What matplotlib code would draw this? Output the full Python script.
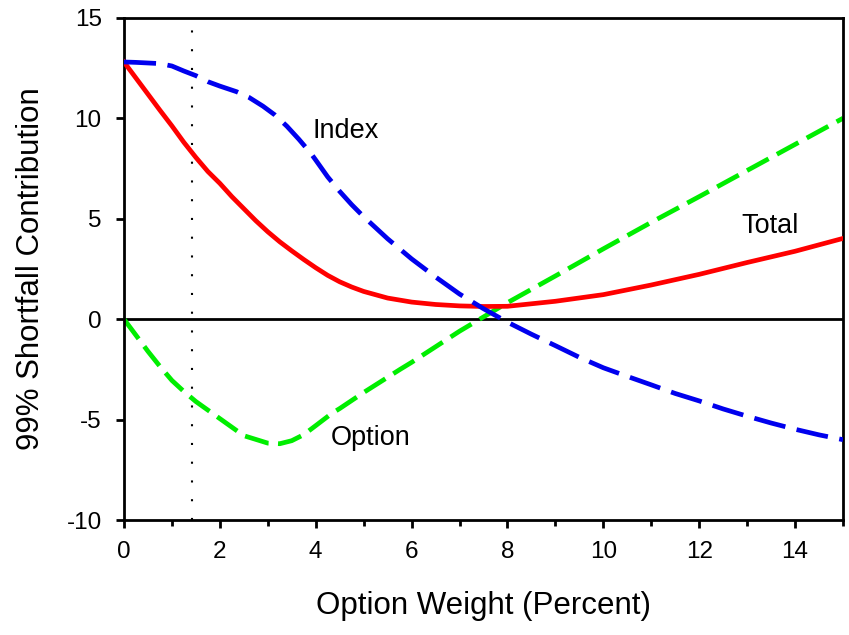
import matplotlib
matplotlib.use('Agg')

import matplotlib.pyplot as plt

# option weight (percent) and the contributions
total_w = [0, 0.25, 0.5, 0.75, 1.0, 1.25, 1.5, 1.75, 2.0, 2.25, 2.5, 2.75,
           3.0, 3.25, 3.5, 3.75, 4.0, 4.25, 4.5, 4.75, 5.0, 5.5, 6.0, 6.5,
           7.0, 7.5, 8, 9, 10, 11, 12, 13, 14, 15]
total = [12.8, 12.0, 11.2, 10.4, 9.62, 8.8, 8.05, 7.35, 6.76, 6.1, 5.5, 4.9,
         4.35, 3.85, 3.4, 2.97, 2.56, 2.18, 1.86, 1.6, 1.38, 1.05, 0.85, 0.73,
         0.66, 0.63, 0.64, 0.89, 1.22, 1.7, 2.23, 2.82, 3.38, 4.02]

index_w = [0, 0.25, 0.5, 0.75, 1.0, 1.25, 1.5, 1.75, 2.0, 2.35, 2.6, 2.9,
           3.15, 3.4, 3.65, 3.9, 4.0, 4.25, 4.5, 4.75, 5.0, 5.5, 6.0, 6.5,
           7.0, 7.5, 8, 8.5, 9, 9.5, 10, 10.5, 11, 11.5, 12, 12.5, 13, 13.5,
           14, 14.5, 15]
index = [12.8, 12.78, 12.75, 12.72, 12.6, 12.35, 12.12, 11.82, 11.6, 11.32,
         11.05, 10.6, 10.16, 9.6, 8.95, 8.25, 7.92, 7.08, 6.36, 5.7, 5.1, 4.0,
         3.0, 2.1, 1.25, 0.52, -0.15, -0.75, -1.32, -1.9, -2.42, -2.85,
         -3.27, -3.7, -4.07, -4.47, -4.83, -5.17, -5.48, -5.76, -6.0]

option_w = [0, 0.25, 0.5, 0.75, 1.0, 1.25, 1.5, 2.0, 2.5, 3.0, 3.25, 3.5,
            3.75, 4.0, 4.33, 4.5, 5.0, 5.76, 6, 7, 8, 9, 10, 11, 12, 13, 14,
            15]
option = [0, -0.8, -1.6, -2.35, -3.05, -3.6, -4.1, -4.95, -5.8, -6.17,
          -6.2, -6.05, -5.75, -5.3, -4.7, -4.45, -3.65, -2.5, -2.15, -0.6,
          0.82, 2.15, 3.5, 4.82, 6.1, 7.4, 8.7, 10.0]

marker_weight = 1.425

plt.rcParams['font.family'] = ['Liberation Sans', 'DejaVu Sans']
plt.rcParams['axes.unicode_minus'] = False

fig = plt.figure(figsize=(8.49, 6.35), dpi=100)
ax = fig.add_axes([0.146, 0.181, 0.847, 0.791])

ax.axhline(0, color='black', lw=2, zorder=1)
ax.axvline(marker_weight, color='black', lw=1.5, linestyle=(0, (1, 8)), zorder=1)

ax.plot(total_w, total, color='#ff0000', lw=3.4, zorder=3)
ax.plot(option_w, option, color='#00ee00', lw=3.4, dashes=(5.2, 2.0), zorder=2)
ax.plot(index_w, index, color='#0000ee', lw=3.4, dashes=(6.8, 2.45), zorder=4)

ax.text(3.94, 9.36, 'Index', fontsize=19.5, va='center', ha='left')
ax.text(12.87, 4.63, 'Total', fontsize=19.5, va='center', ha='left')
ax.text(4.32, -5.93, 'Option', fontsize=19.5, va='center', ha='left')

ax.set_xlim(0, 15)
ax.set_ylim(-10, 15)
ax.set_xticks(range(0, 15, 2))
ax.set_xticks(range(1, 16, 2), minor=True)
ax.set_yticks(range(-10, 16, 5))

for s in ax.spines.values():
    s.set_linewidth(2)
ax.tick_params(axis='both', which='major', direction='out', length=6, width=2,
               labelsize=17.5, pad=9)
ax.tick_params(axis='x', which='minor', direction='out', length=4.5, width=2)
ax.tick_params(axis='y', pad=10)

ax.set_xlabel('Option Weight (Percent)', fontsize=22.5)
ax.set_ylabel('99% Shortfall Contribution', fontsize=22.5)
ax.xaxis.set_label_coords(0.5, -0.141)
ax.yaxis.set_label_coords(-0.108, 0.501)

fig.savefig('out.png', dpi=100)
